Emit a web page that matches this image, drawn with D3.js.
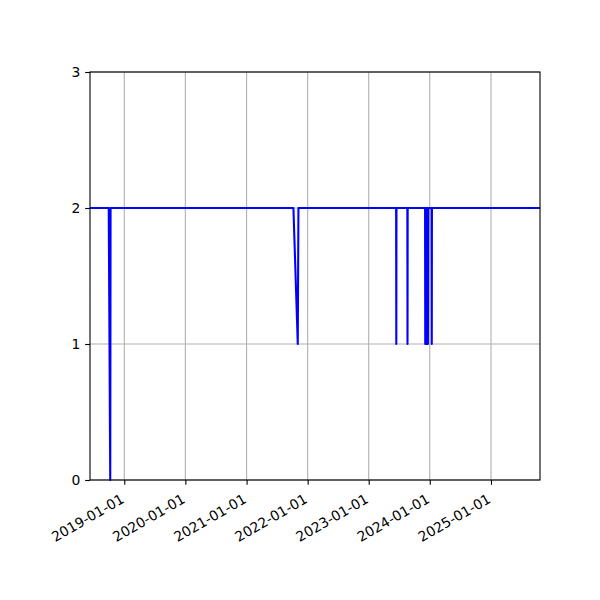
<!DOCTYPE html>
<html>
<head>
<meta charset="utf-8">
<script src="https://cdn.jsdelivr.net/npm/d3@7"></script>
<style>
  body { margin: 0; background: #fff; }
  text { font-family: 'DejaVu Sans', sans-serif; }
</style>
</head>
<body>
<div id="chart"></div>
<script>

// breakpoints of the series (value stays at 2 between them)
var point_dates = [
  '2018-06-10', '2018-09-30', '2018-10-09', '2018-10-11',
  '2021-10-08', '2021-11-03', '2021-11-07',
  '2023-06-14', '2023-06-15', '2023-06-16',
  '2023-08-20', '2023-08-21', '2023-08-22',
  '2023-12-04', '2023-12-05', '2023-12-07', '2023-12-09', '2023-12-11',
  '2023-12-13', '2023-12-15', '2023-12-17', '2023-12-19', '2023-12-21',
  '2023-12-23',
  '2024-01-12', '2024-01-13', '2024-01-14',
  '2025-10-21'
];
var point_values = [
  2, 2, 0, 2,
  2, 1, 2,
  2, 1, 2,
  2, 1, 2,
  2, 1, 2, 1, 2,
  1, 2, 1, 2, 1,
  2,
  2, 1, 2,
  2
];
var x_ticks = ['2019-01-01', '2020-01-01', '2021-01-01', '2022-01-01',
               '2023-01-01', '2024-01-01', '2025-01-01'];
var y_ticks = [0, 1, 2, 3];

var width = 600, height = 600;
var margin = {left: 90, right: 60, top: 72, bottom: 120};
var parse = d3.timeParse('%Y-%m-%d');

var data = point_dates.map(function(d, i){
  return {date: parse(d), value: point_values[i]};
});

var svg = d3.select('#chart')
  .append('svg')
  .attr('width', width)
  .attr('height', height);

var x_scale = d3.scaleTime()
  .domain(d3.extent(data, function(d){ return d.date; }))
  .range([margin.left, width - margin.right]);

var y_scale = d3.scaleLinear()
  .domain([0, 3])
  .range([height - margin.bottom, margin.top]);

var tick_len = 4.86;
var fs = 13.9;

// grid lines
svg.append('g')
  .selectAll('line')
  .data(x_ticks.map(parse))
  .enter()
  .append('line')
  .attr('x1', function(d){ return x_scale(d); })
  .attr('x2', function(d){ return x_scale(d); })
  .attr('y1', margin.top)
  .attr('y2', height - margin.bottom)
  .attr('stroke', '#b0b0b0')
  .attr('stroke-width', 1.1);

svg.append('g')
  .selectAll('line')
  .data(y_ticks)
  .enter()
  .append('line')
  .attr('x1', margin.left)
  .attr('x2', width - margin.right)
  .attr('y1', function(d){ return y_scale(d); })
  .attr('y2', function(d){ return y_scale(d); })
  .attr('stroke', '#b0b0b0')
  .attr('stroke-width', 1.1);

// data line
var line = d3.line()
  .x(function(d){ return x_scale(d.date); })
  .y(function(d){ return y_scale(d.value); });

svg.append('path')
  .datum(data)
  .attr('d', line)
  .attr('fill', 'none')
  .attr('stroke', '#0000ff')
  .attr('stroke-width', 2.08)
  .attr('stroke-linejoin', 'round');

// frame
svg.append('rect')
  .attr('x', margin.left)
  .attr('y', margin.top)
  .attr('width', width - margin.left - margin.right)
  .attr('height', height - margin.top - margin.bottom)
  .attr('fill', 'none')
  .attr('stroke', '#000')
  .attr('stroke-width', 1.1);

// x axis ticks and rotated labels
var x_axis = svg.append('g')
  .attr('transform', 'translate(0,' + (height - margin.bottom) + ')')
  .call(d3.axisBottom(x_scale)
    .tickValues(x_ticks.map(parse))
    .tickSize(tick_len)
    .tickFormat(d3.timeFormat('%Y-%m-%d')));

x_axis.select('.domain').remove();
x_axis.selectAll('.tick line')
  .attr('stroke', '#000')
  .attr('stroke-width', 1.1);
// right/top of the rotated box sits under the tick, like autofmt_xdate
x_axis.selectAll('.tick text')
  .attr('fill', '#000')
  .style('font-size', fs + 'px')
  .attr('text-anchor', 'end')
  .attr('x', 0)
  .attr('y', 0)
  .attr('dy', '0.76em')
  .attr('transform', 'translate(-5,' + (tick_len * 2 + 3) + ') rotate(-30)');

// y axis
var y_axis = svg.append('g')
  .attr('transform', 'translate(' + margin.left + ',0)')
  .call(d3.axisLeft(y_scale)
    .tickValues(y_ticks)
    .tickSize(tick_len)
    .tickPadding(tick_len)
    .tickFormat(d3.format('d')));

y_axis.select('.domain').remove();
y_axis.selectAll('.tick line')
  .attr('stroke', '#000')
  .attr('stroke-width', 1.1);
y_axis.selectAll('.tick text')
  .attr('fill', '#000')
  .style('font-size', fs + 'px');

</script>
</body>
</html>
